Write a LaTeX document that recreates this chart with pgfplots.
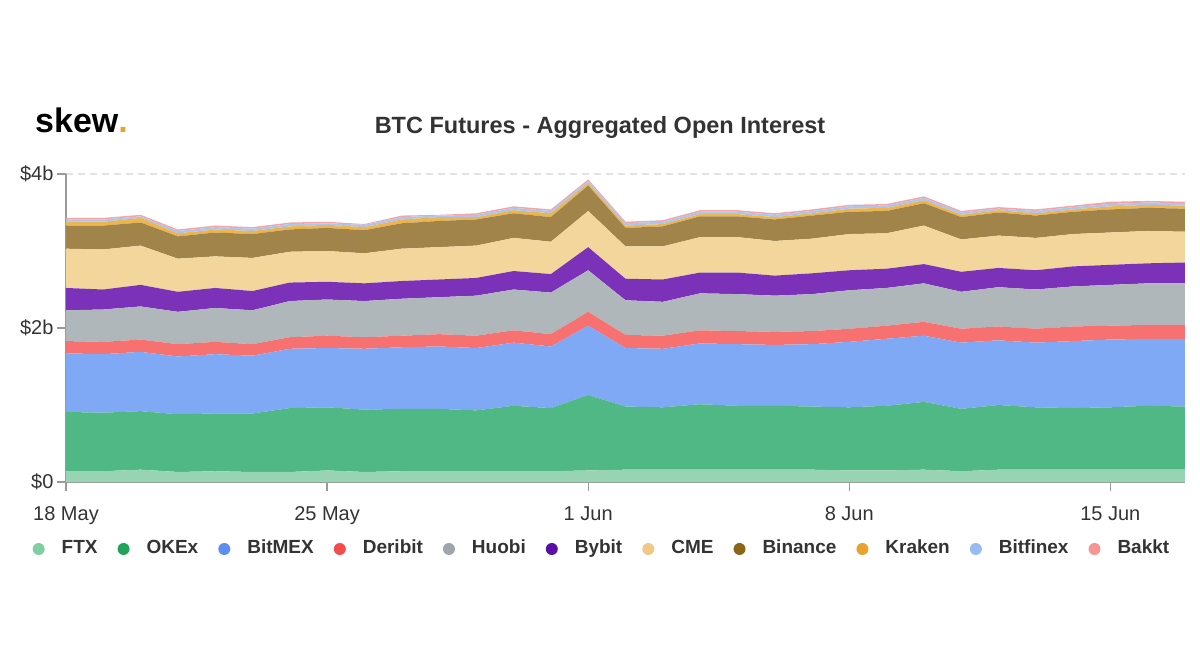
\documentclass[border=0pt]{standalone}
\usepackage{fontspec}
\setmainfont{Liberation Sans}
\usepackage{pgfplots}
\usepackage{pgfplotstable}
\pgfplotsset{compat=1.18}

\definecolor{ftxF}{HTML}{98D4B3}
\definecolor{okexF}{HTML}{50B884}
\definecolor{bitmexF}{HTML}{7FA8F5}
\definecolor{deribitF}{HTML}{F87171}
\definecolor{huobiF}{HTML}{B0B7BB}
\definecolor{bybitF}{HTML}{7B32B8}
\definecolor{cmeF}{HTML}{F3D69C}
\definecolor{binanceF}{HTML}{A08449}
\definecolor{krakenF}{HTML}{ECB54D}
\definecolor{bitfinexF}{HTML}{A9C6F7}
\definecolor{bakktF}{HTML}{F9A3A3}

\definecolor{ftxL}{HTML}{80CFA0}
\definecolor{okexL}{HTML}{22A35A}
\definecolor{bitmexL}{HTML}{5B8EF0}
\definecolor{deribitL}{HTML}{F44C4C}
\definecolor{huobiL}{HTML}{9EA6AB}
\definecolor{bybitL}{HTML}{5B0EA5}
\definecolor{cmeL}{HTML}{F0C987}
\definecolor{binanceL}{HTML}{8B6518}
\definecolor{krakenL}{HTML}{E9A22F}
\definecolor{bitfinexL}{HTML}{98BBF2}
\definecolor{bakktL}{HTML}{F79595}

\definecolor{axgray}{HTML}{9A9A9A}
\definecolor{txt}{HTML}{333333}
\definecolor{gridc}{HTML}{E3E3E3}

% open interest per exchange, $ billions, daily from 18 May (d=0) to 17 Jun (d=30)
\pgfplotstableread{
d ftx okex bitmex deribit huobi bybit cme binance kraken bitfinex bakkt
0 0.14 0.77 0.76 0.16 0.40 0.29 0.51 0.30 0.05 0.03 0.02
1 0.14 0.76 0.76 0.16 0.42 0.26 0.52 0.31 0.05 0.03 0.02
2 0.16 0.76 0.77 0.16 0.43 0.28 0.51 0.30 0.06 0.02 0.02
3 0.13 0.75 0.75 0.16 0.42 0.26 0.43 0.29 0.04 0.03 0.02
4 0.14 0.75 0.77 0.16 0.44 0.26 0.41 0.31 0.04 0.03 0.02
5 0.13 0.76 0.75 0.15 0.44 0.25 0.43 0.31 0.04 0.03 0.02
6 0.13 0.83 0.77 0.15 0.47 0.24 0.40 0.29 0.04 0.03 0.02
7 0.15 0.82 0.77 0.16 0.47 0.23 0.40 0.30 0.04 0.02 0.02
8 0.13 0.81 0.79 0.15 0.47 0.23 0.39 0.30 0.04 0.03 0.01
9 0.14 0.81 0.80 0.15 0.48 0.23 0.42 0.33 0.05 0.03 0.02
10 0.14 0.81 0.81 0.16 0.48 0.23 0.42 0.34 0.05 0.02 0.01
11 0.14 0.79 0.81 0.16 0.52 0.23 0.42 0.34 0.03 0.03 0.02
12 0.14 0.85 0.82 0.16 0.53 0.24 0.43 0.32 0.04 0.03 0.02
13 0.14 0.82 0.80 0.16 0.54 0.24 0.42 0.32 0.05 0.03 0.02
14 0.15 0.98 0.90 0.18 0.54 0.30 0.47 0.33 0.03 0.03 0.02
15 0.16 0.82 0.76 0.17 0.45 0.28 0.42 0.24 0.03 0.03 0.02
16 0.16 0.81 0.76 0.17 0.44 0.29 0.43 0.26 0.03 0.03 0.02
17 0.16 0.85 0.79 0.17 0.48 0.27 0.46 0.27 0.03 0.03 0.02
18 0.16 0.83 0.80 0.17 0.48 0.28 0.46 0.27 0.03 0.03 0.02
19 0.16 0.83 0.79 0.17 0.47 0.26 0.45 0.28 0.03 0.03 0.02
20 0.16 0.82 0.81 0.17 0.48 0.27 0.45 0.30 0.03 0.03 0.02
21 0.15 0.82 0.85 0.17 0.50 0.26 0.47 0.29 0.04 0.03 0.02
22 0.15 0.84 0.87 0.17 0.49 0.25 0.46 0.29 0.04 0.03 0.02
23 0.16 0.88 0.86 0.18 0.50 0.25 0.50 0.29 0.04 0.03 0.02
24 0.14 0.81 0.86 0.18 0.48 0.26 0.42 0.29 0.03 0.03 0.02
25 0.16 0.84 0.84 0.18 0.51 0.25 0.42 0.30 0.03 0.02 0.02
26 0.16 0.81 0.84 0.18 0.51 0.25 0.42 0.29 0.03 0.03 0.02
27 0.16 0.80 0.87 0.19 0.52 0.26 0.42 0.29 0.03 0.03 0.02
28 0.16 0.81 0.88 0.18 0.53 0.26 0.42 0.30 0.04 0.03 0.03
29 0.16 0.83 0.87 0.18 0.54 0.26 0.42 0.30 0.04 0.03 0.02
30 0.16 0.82 0.88 0.18 0.54 0.27 0.40 0.30 0.04 0.03 0.02
}\oidata

\begin{document}
\begin{tikzpicture}
\useasboundingbox[fill=white] (0pt,0pt) rectangle (1200pt,670pt);
\node[anchor=base west, inner sep=0pt] at (35pt,537pt)
  {\fontsize{34}{40}\selectfont\bfseries skew\textcolor{krakenL}{.}};
\node[anchor=base, inner sep=0pt, text=txt] at (600pt,536pt)
  {\fontsize{23.5}{28}\selectfont\bfseries BTC Futures - Aggregated Open Interest};
\begin{axis}[
  at={(66pt,188pt)}, anchor=south west,
  scale only axis, width=1119pt, height=308pt,
  xmin=0, xmax=30, ymin=0, ymax=4,
  stack plots=y,
  axis x line*=bottom, axis y line*=left,
  axis line style={draw=axgray, line width=1.5pt},
  xtick={0,7,14,21,28},
  xticklabels={18 May,25 May,1 Jun,8 Jun,15 Jun},
  ytick={0,2,4},
  yticklabels={\$0,\$2b,\$4b},
  tick align=outside,
  major tick length=9pt,
  tick style={draw=axgray, line width=1.2pt},
  ymajorgrids,
  grid style={draw=gridc, line width=1.2pt, dash pattern=on 7pt off 5pt},
  ticklabel style={font=\fontsize{20}{24}\selectfont, text=txt},
  xticklabel style={anchor=base, yshift=-29pt},
  legend columns=-1,
  legend image code/.code={\fill (5pt,0pt) circle (6pt);},
  legend style={at={(0.479,-0.2175)}, anchor=center, draw=none, fill=none,
    font=\fontsize{19}{23}\selectfont\bfseries, text=txt,
    nodes={text height=14pt, text depth=4.5pt},
    /tikz/every even column/.append style={column sep=18pt},
    /tikz/every odd column/.append style={column sep=15pt}},
]
\addplot[fill=ftxF, draw=none, forget plot] table[x=d,y=ftx]{\oidata} \closedcycle;
\addplot[fill=okexF, draw=none, forget plot] table[x=d,y=okex]{\oidata} \closedcycle;
\addplot[fill=bitmexF, draw=none, forget plot] table[x=d,y=bitmex]{\oidata} \closedcycle;
\addplot[fill=deribitF, draw=none, forget plot] table[x=d,y=deribit]{\oidata} \closedcycle;
\addplot[fill=huobiF, draw=none, forget plot] table[x=d,y=huobi]{\oidata} \closedcycle;
\addplot[fill=bybitF, draw=none, forget plot] table[x=d,y=bybit]{\oidata} \closedcycle;
\addplot[fill=cmeF, draw=none, forget plot] table[x=d,y=cme]{\oidata} \closedcycle;
\addplot[fill=binanceF, draw=none, forget plot] table[x=d,y=binance]{\oidata} \closedcycle;
\addplot[fill=krakenF, draw=none, forget plot] table[x=d,y=kraken]{\oidata} \closedcycle;
\addplot[fill=bitfinexF, draw=none, forget plot] table[x=d,y=bitfinex]{\oidata} \closedcycle;
\addplot[fill=bakktF, draw=none, forget plot] table[x=d,y=bakkt]{\oidata} \closedcycle;
\addlegendimage{fill=ftxL, draw=none}\addlegendentry{FTX}
\addlegendimage{fill=okexL, draw=none}\addlegendentry{OKEx}
\addlegendimage{fill=bitmexL, draw=none}\addlegendentry{BitMEX}
\addlegendimage{fill=deribitL, draw=none}\addlegendentry{Deribit}
\addlegendimage{fill=huobiL, draw=none}\addlegendentry{Huobi}
\addlegendimage{fill=bybitL, draw=none}\addlegendentry{Bybit}
\addlegendimage{fill=cmeL, draw=none}\addlegendentry{CME}
\addlegendimage{fill=binanceL, draw=none}\addlegendentry{Binance}
\addlegendimage{fill=krakenL, draw=none}\addlegendentry{Kraken}
\addlegendimage{fill=bitfinexL, draw=none}\addlegendentry{Bitfinex}
\addlegendimage{fill=bakktL, draw=none}\addlegendentry{Bakkt}
\end{axis}
\end{tikzpicture}
\end{document}
